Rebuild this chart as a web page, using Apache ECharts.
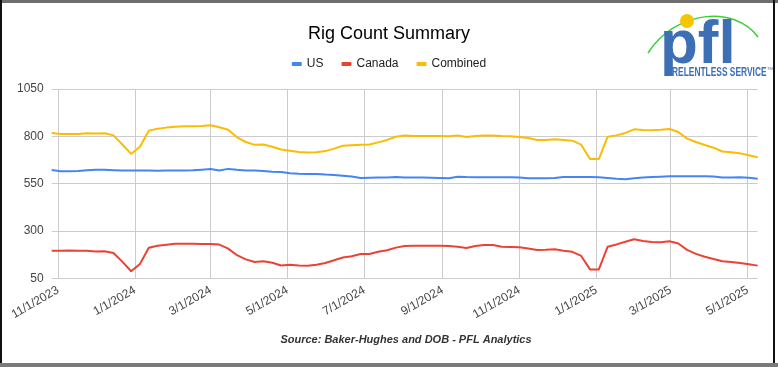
<!DOCTYPE html>
<html>
<head>
<meta charset="utf-8">
<script src="https://cdn.jsdelivr.net/npm/echarts@6/dist/echarts.min.js"></script>
<style>
html,body{margin:0;padding:0;background:#fff;}
#chart{width:778px;height:367px;}
</style>
</head>
<body>
<div id="chart"></div>
<script>
const dates = [
'2023-10-27','2023-11-03','2023-11-10','2023-11-17','2023-11-24','2023-12-01','2023-12-08','2023-12-15','2023-12-22','2023-12-29',
'2024-01-05','2024-01-12','2024-01-19','2024-01-26','2024-02-02','2024-02-09','2024-02-16','2024-02-23','2024-03-01','2024-03-08',
'2024-03-15','2024-03-22','2024-03-29','2024-04-05','2024-04-12','2024-04-19','2024-04-26','2024-05-03','2024-05-10','2024-05-17',
'2024-05-24','2024-05-31','2024-06-07','2024-06-14','2024-06-21','2024-06-28','2024-07-05','2024-07-12','2024-07-19','2024-07-26',
'2024-08-02','2024-08-09','2024-08-16','2024-08-23','2024-08-30','2024-09-06','2024-09-13','2024-09-20','2024-09-27','2024-10-04',
'2024-10-11','2024-10-18','2024-10-25','2024-11-01','2024-11-08','2024-11-15','2024-11-22','2024-11-29','2024-12-06','2024-12-13',
'2024-12-20','2024-12-27','2025-01-03','2025-01-10','2025-01-17','2025-01-24','2025-01-31','2025-02-07','2025-02-14','2025-02-21',
'2025-02-28','2025-03-07','2025-03-14','2025-03-21','2025-03-28','2025-04-04','2025-04-11','2025-04-18','2025-04-25','2025-05-02',
'2025-05-09'
];
const usRigs = [
622,616,615,617,621,623,623,621,619,620,
619,619,618,619,619,620,621,624,627,620,
628,623,620,619,617,613,612,605,602,601,
601,598,596,592,588,580,581,582,583,585,
583,582,582,581,580,579,587,585,584,584,
584,584,584,582,579,579,578,580,585,585,
585,585,584,580,576,573,578,582,585,587,
589,589,589,589,589,588,582,583,584,581,
576
];
const canadaRigs = [
196,196,197,195,195,192,193,184,138,87,
126,211,222,227,232,233,232,231,231,228,
207,172,150,136,140,132,118,122,117,116,
122,131,145,160,167,178,178,190,198,212,
221,222,222,222,222,221,217,210,221,226,
226,217,216,214,207,200,201,203,196,190,
168,97,97,217,229,243,256,247,242,241,
246,234,200,179,164,152,140,136,131,124,
117
];
const combinedRigs = [
818,812,812,812,816,815,816,805,757,707,
745,830,840,846,851,853,853,855,858,848,
835,795,770,755,757,745,730,724,717,714,
716,722,735,750,753,755,757,768,781,798,
804,802,802,802,802,800,805,796,802,804,
805,802,800,796,791,781,781,784,781,777,
756,680,680,798,805,818,837,833,832,835,
839,823,788,770,754,740,720,716,710,700,
689
];
const xTickDates = ['2023-11-01','2024-01-01','2024-03-01','2024-05-01','2024-07-01','2024-09-01','2024-11-01','2025-01-01','2025-03-01','2025-05-01'];
const yTicks = [50, 300, 550, 800, 1050];
const seriesNames = ['US', 'Canada', 'Combined'];
const seriesColors = ['#4285F4', '#EA4335', '#FBBC04'];

function toTime(s){ const p = s.split('-').map(Number); return Date.UTC(p[0], p[1]-1, p[2]); }
function pair(vals){ return vals.map((v,i)=>[toTime(dates[i]), v]); }
const xTickValues = xTickDates.map(toTime);

const chart = echarts.init(document.getElementById('chart'), null, {renderer:'canvas'});
const FONT = "'Liberation Sans', Arial, sans-serif";
chart.setOption({
  animation:false,
  textStyle:{fontFamily:FONT},
  title:{text:'Rig Count Summary', left:'center', top:20,
    textStyle:{fontSize:18, fontWeight:'normal', color:'#000', fontFamily:FONT}},
  legend:{top:53, left:'center', icon:'roundRect', itemWidth:10, itemHeight:4, itemGap:18,
    textStyle:{fontSize:12, color:'#222', fontFamily:FONT},
    data:seriesNames},
  grid:{left:51.7, right:20.3, top:89, bottom:88.7, containLabel:false},
  xAxis:{type:'value', min:toTime(dates[0]), max:toTime(dates[dates.length-1]),
    axisLine:{show:false},
    axisTick:{show:false, customValues:xTickValues},
    splitLine:{show:true, lineStyle:{color:'#cccccc', width:1}},
    axisLabel:{customValues:xTickValues, rotate:30, margin:11, fontSize:12, color:'#444', fontFamily:FONT,
      formatter:function(v){const d=new Date(v); return (d.getUTCMonth()+1)+'/'+d.getUTCDate()+'/'+d.getUTCFullYear();}}
  },
  yAxis:{type:'value', min:yTicks[0], max:yTicks[yTicks.length-1], interval:yTicks[1]-yTicks[0],
    axisLine:{show:false}, axisTick:{show:false},
    splitLine:{lineStyle:{color:'#cccccc', width:1}},
    axisLabel:{fontSize:12, color:'#444', margin:8, fontFamily:FONT, formatter:function(v){return String(v);}}},
  series:[
    {name:seriesNames[0], type:'line', data:pair(usRigs), showSymbol:false, color:seriesColors[0], lineStyle:{width:2}},
    {name:seriesNames[1], type:'line', data:pair(canadaRigs), showSymbol:false, color:seriesColors[1], lineStyle:{width:2}},
    {name:seriesNames[2], type:'line', data:pair(combinedRigs), showSymbol:false, color:seriesColors[2], lineStyle:{width:2}}
  ],
  graphic:[
    {type:'rect', shape:{x:0,y:0,width:778,height:3}, style:{fill:'#6e6e6e'}, silent:true},
    {type:'rect', shape:{x:0,y:0,width:2,height:367}, style:{fill:'#111'}, silent:true},
    {type:'rect', shape:{x:773,y:0,width:2,height:367}, style:{fill:'#111'}, silent:true},
    {type:'rect', shape:{x:0,y:363,width:778,height:4}, style:{fill:'#7a7a7a'}, silent:true},
    {type:'text', style:{text:'Source: Baker-Hughes and DOB - PFL Analytics', x:406, y:340, align:'center', verticalAlign:'middle',
      font:"italic bold 11px 'Liberation Sans', Arial, sans-serif", fill:'#333'}, silent:true},
    {type:'bezierCurve', shape:{x1:648,y1:53,cpx1:675,cpy1:10,cpx2:735,cpy2:5,x2:758,y2:37}, style:{stroke:'#3ccf3c', lineWidth:1.5, fill:null}, silent:true},
    {type:'text', style:{text:'pfl', x:660, y:46, align:'left', verticalAlign:'middle',
      font:"bold 62px 'Liberation Sans', Arial, sans-serif", fill:'#3d6fb6'}, silent:true},
    {type:'circle', shape:{cx:687,cy:21,r:7}, style:{fill:'#f7c500'}, silent:true},
    {type:'text', x:672, y:73, scaleX:0.7, style:{text:'RELENTLESS SERVICE', x:0, y:0, align:'left', verticalAlign:'middle',
      font:"bold 12px 'Liberation Sans', Arial, sans-serif", fill:'#3d6fb6'}, silent:true},
    {type:'text', style:{text:'TM', x:767, y:69, align:'left', verticalAlign:'middle',
      font:"4px 'Liberation Sans', Arial, sans-serif", fill:'#3d6fb6'}, silent:true}
  ]
});
</script>
</body>
</html>
